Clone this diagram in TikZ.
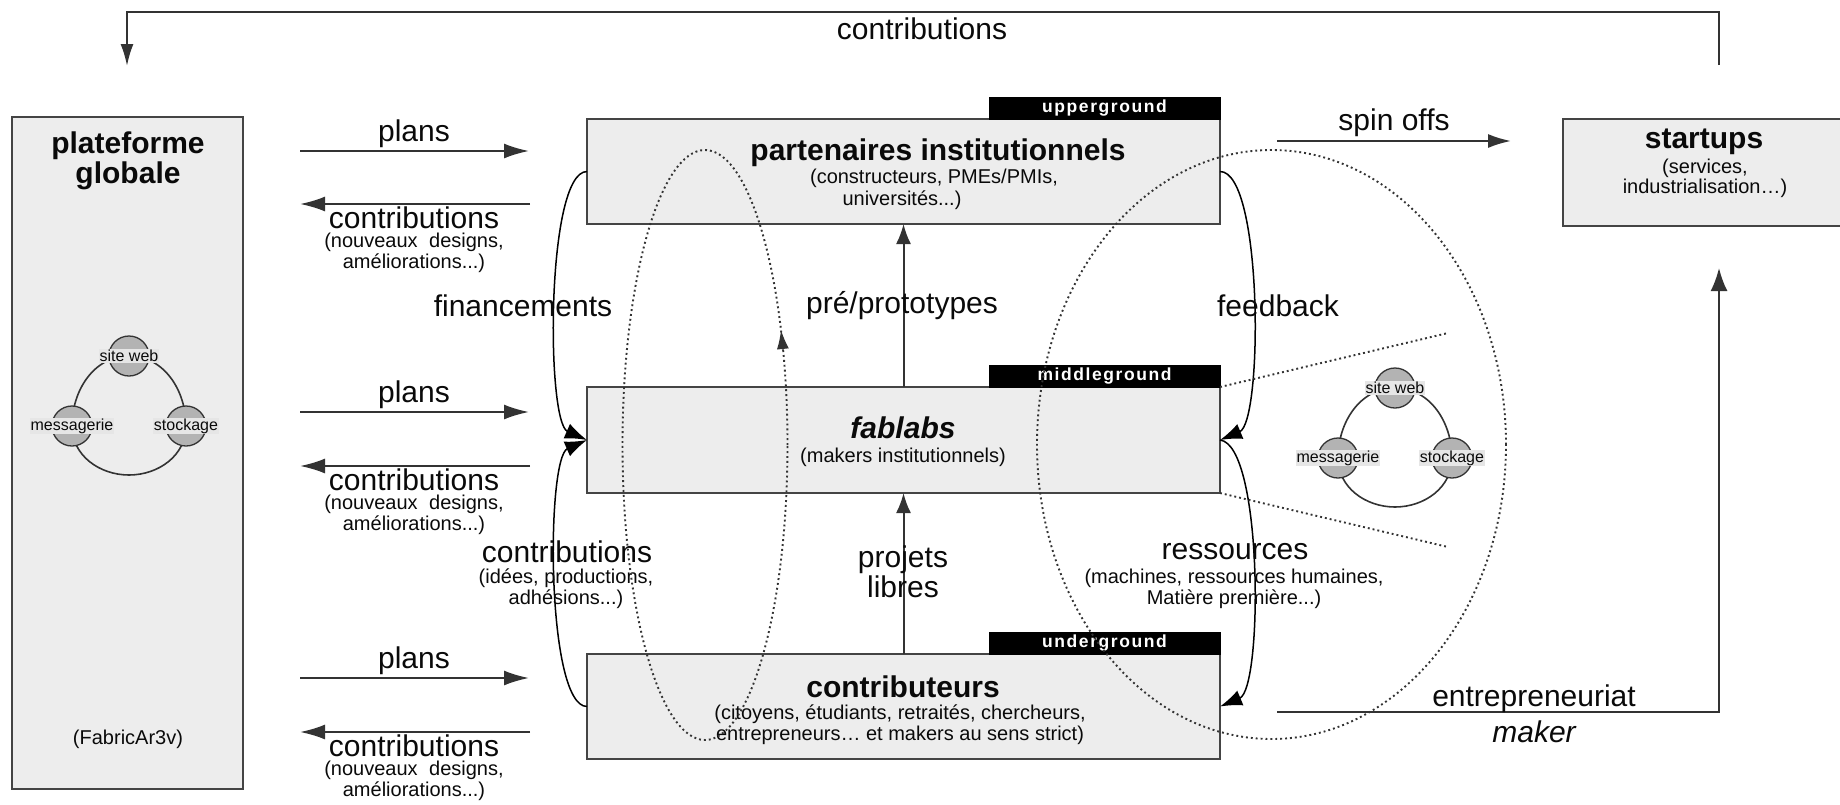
\documentclass[tikz,border=0pt]{standalone}
\usepackage{fontspec}
\setmainfont{Liberation Sans}
\newfontfamily\tagfont[LetterSpace=9]{Liberation Sans}
\usetikzlibrary{arrows.meta}
\definecolor{boxfill}{HTML}{EDEDED}
\definecolor{boxline}{HTML}{444444}
\definecolor{ln}{HTML}{333333}
\definecolor{txt}{HTML}{0A0A0A}
\definecolor{circfill}{HTML}{B3B3B3}
\definecolor{lblfill}{HTML}{E6E6E6}
\newcommand\fsz[2]{\fontsize{#1}{#2}\selectfont}
\begin{document}
\begin{tikzpicture}[x=1pt,y=-1pt,
  every node/.style={inner sep=0pt,outer sep=0pt,text=txt},
  box/.style={draw=boxline,fill=boxfill,line width=2pt,minimum width=633pt,minimum height=105pt},
  tagbox/.style={fill=black,draw=black,line width=1pt,minimum width=231pt,minimum height=22pt,text=white,font=\tagfont\bfseries\fsz{17.5}{17.5}},
  big/.style={font=\fsz{30}{30},align=center},
  ttl/.style={font=\bfseries\fsz{30}{30},align=center},
  small/.style={font=\fsz{20}{21},align=center},
  arr/.style={draw=ln,line width=2pt,-{Latex[length=25pt,width=15pt]}},
  varr/.style={draw=ln,line width=2pt,-{Latex[length=20pt,width=15pt]}},
  curv/.style={draw=black,line width=1.5pt,-{Latex[length=22pt,width=16pt]}},
  dots/.style={draw=ln,line width=1.9pt,dash pattern=on 1.9pt off 3pt},
  circ/.style={circle,draw=ln,line width=1.3pt,fill=circfill,minimum size=40pt},
  clbl/.style={fill=lblfill,inner sep=1pt,font=\fsz{16}{16}},
  ringline/.style={draw=ln,line width=1.6pt},
]
\useasboundingbox (0,0) rectangle (1840,804);

% boxes
\node[box,minimum width=231pt,minimum height=672pt] (plat) at (127.5,453) {};
\node[box] (part) at (903.5,171.5) {};
\node[box,minimum height=106pt] (fab) at (903.5,440) {};
\node[box] (contr) at (903.5,706.5) {};
\node[fill=boxfill,minimum width=277pt,minimum height=107pt] (start) at (1701.5,172) {};
\draw[draw=boxline,line width=2pt] (start.north east) -- (start.north west) -- (start.south west) -- (start.south east);

% tags
\node[tagbox] (tagU) at (1104.5,108) {upperground};
\node[tagbox] (tagM) at (1104.5,376) {middleground};
\node[tagbox] (tagD) at (1104.5,643) {underground};

% box texts
\node[ttl] (platT) at (128,161) {plateforme\\globale};
\node[small] (platF) at (128,739) {(FabricAr3v)};
\node[ttl] (partT) at (938,153) {partenaires institutionnels};
\node[small] (partS1) at (934,178) {(constructeurs, PMEs/PMIs,};
\node[small] (partS2) at (902,200) {universités...)};
\node[font=\bfseries\itshape\fsz{30}{30}] (fabT) at (903,428) {fablabs};
\node[small] (fabS) at (903,457) {(makers institutionnels)};
\node[ttl] (contrT) at (903,687) {contributeurs};
\node[small] (contrS) at (900,725) {(citoyens, étudiants, retraités, chercheurs,\\entrepreneurs… et makers au sens strict)};
\node[ttl] (startT) at (1704,142) {startups};
\node[small,font=\fsz{20}{20}] (startS) at (1705,178) {(services,\\industrialisation…)};

% ring icons
\coordinate (ls) at (129,356); \coordinate (lm) at (72,426); \coordinate (lk) at (186,426); \coordinate (lb) at (129,475);
\coordinate (rs) at (1395,388); \coordinate (rm) at (1338,458); \coordinate (rk) at (1452,458); \coordinate (rb) at (1395,507);
\draw[ringline] (lm) to[out=90,in=180] (ls) to[out=0,in=90] (lk) to[out=-90,in=0] (lb) to[out=180,in=-90] (lm);
\draw[ringline] (rm) to[out=90,in=180] (rs) to[out=0,in=90] (rk) to[out=-90,in=0] (rb) to[out=180,in=-90] (rm);
\node[circ] (lsC) at (ls) {}; \node[circ] (lmC) at (lm) {}; \node[circ] (lkC) at (lk) {};
\node[circ] (rsC) at (rs) {}; \node[circ] (rmC) at (rm) {}; \node[circ] (rkC) at (rk) {};
\node[clbl] (lsL) at (ls) {site web}; \node[clbl] (lmL) at (lm) {messagerie}; \node[clbl] (lkL) at (lk) {stockage};
\node[clbl] (rsL) at (rs) {site web}; \node[clbl] (rmL) at (rm) {messagerie}; \node[clbl] (rkL) at (rk) {stockage};

% left arrows
\foreach \i/\yp/\yc in {1/151/204, 2/412/466, 3/678/732} {
  \coordinate (pa\i) at (300,\yp); \coordinate (pb\i) at (529,\yp);
  \coordinate (ca\i) at (530,\yc); \coordinate (cb\i) at (300,\yc);
  \draw[arr] (pa\i) -- (pb\i);
  \draw[arr] (ca\i) -- (cb\i);
  \node[big] (pl\i) at (414,\yp-17) {plans};
  \node[big] (cl\i) at (414,\yc+14) {contributions};
  \node[small] (cs\i) at (414,\yc+49) {(nouveaux\hspace{6pt} designs,\\améliorations...)};
}

% top feedback loop
\coordinate (tr) at (1719,65); \coordinate (tl) at (127,66);
\draw[draw=ln,line width=2pt,-{Latex[length=22pt,width=13pt]}] (tr) -- ++(0,-53) -| (tl);
\node[big] (topC) at (922,29) {contributions};

% vertical arrows
\draw[varr] (fab.north) -- (part.south);
\draw[varr] (contr.north) -- (fab.south);
\node[big] (preL) at (902,306) {pré/prototypes};
\node[big] (projL) at (903,572) {projets\\libres};

% curved arrows
\draw[curv] (part.west) .. controls +(-41,0) and +(-41,-18) .. (fab.west);
\draw[curv] (contr.west) .. controls +(-41,0) and +(-41,18) .. (fab.west);
\draw[curv] (part.east) .. controls +(43,0) and +(43,-18) .. (fab.east);
\draw[curv] (fab.east) .. controls +(43,5) and +(43,-18) .. (contr.east);
\node[big] (finL) at (523,306) {financements};
\node[big] (fbL) at (1278,306) {feedback};
\node[big] (cmL) at (567,552) {contributions};
\node[small] (cmS) at (566,589) {(idées, productions,\\adhésions...)};
\node[big] (resL) at (1235,552) {ressources};
\node[small] (resS) at (1234,589) {(machines, ressources humaines,\\Matière première...)};

% dotted zoom lines and ellipses
\coordinate (d1) at (1448,333); \coordinate (d2) at (1448,547);
\draw[dots] (fab.north east) -- (d1);
\draw[dots] (fab.south east) -- (d2);
\draw[dots] (705,445) ellipse [x radius=82.5pt, y radius=295pt];
\draw[dots] (1271.5,444.5) ellipse [x radius=234.5pt, y radius=294.5pt];
\coordinate (ea0) at (783,350); \coordinate (ea1) at (781,330);
\draw[draw=ln,line width=1.2pt,-{Latex[length=19pt,width=12pt]}] (ea0) -- (ea1);

% spin offs
\coordinate (s0) at (1277,141); \coordinate (s1) at (1511,141);
\draw[draw=ln,line width=2pt,-{Latex[length=23pt,width=14pt]}] (s0) -- (s1);
\node[big] (spinL) at (1394,123) {spin offs};

% entrepreneuriat
\coordinate (e0) at (1277,712); \coordinate (e1) at (1719,268);
\draw[draw=ln,line width=2pt,-{Latex[length=23pt,width=17pt]}] (e0) -| (e1);
\node[big] (entL) at (1534,699) {entrepreneuriat};
\node[big,font=\itshape\fsz{30}{30}] (makL) at (1534,732) {maker};
\end{tikzpicture}
\end{document}
